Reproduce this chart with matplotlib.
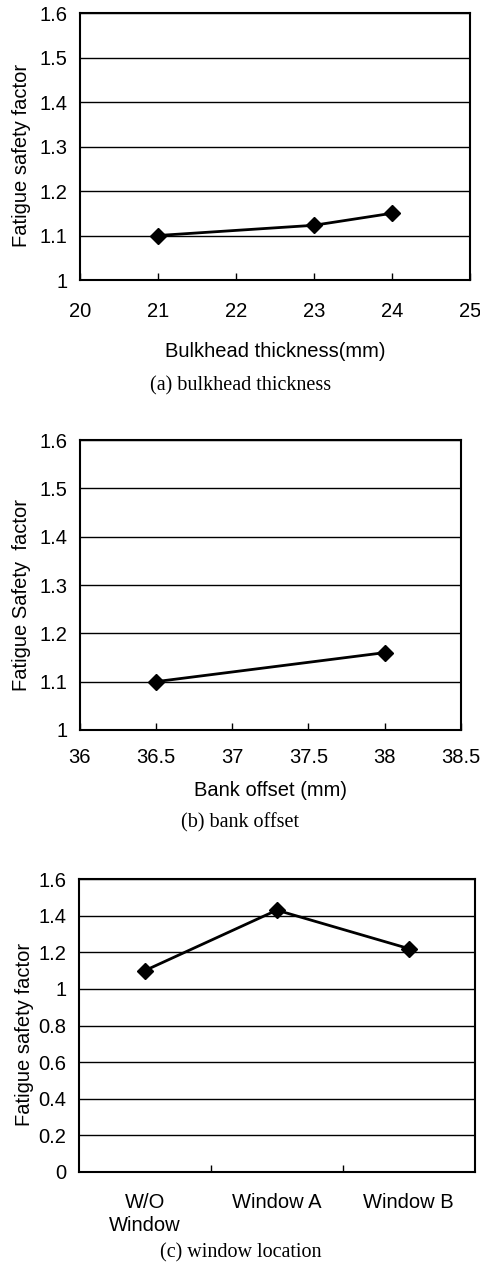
import matplotlib.pyplot as plt
from matplotlib.ticker import FuncFormatter

# (a) bulkhead thickness
thick_mm = [21, 23, 24]
thick_sf = [1.10, 1.123, 1.15]
# (b) bank offset
offset_mm = [36.5, 38]
offset_sf = [1.10, 1.16]
# (c) window location
windows = ['W/O\nWindow', 'Window A', 'Window B']
window_sf = [1.10, 1.43, 1.22]

plt.rcParams['font.family'] = ['Liberation Sans', 'DejaVu Sans']
FS = 14.5
fig = plt.figure(figsize=(4.81, 12.71), dpi=100)

def style(ax, yticks, xpad):
    ax.set_yticks(yticks)
    ax.yaxis.set_major_formatter(FuncFormatter(lambda v, p: '%g' % round(v, 2)))
    ax.grid(axis='y', color='black', linewidth=1.0)
    ax.set_axisbelow(True)
    for s in ax.spines.values():
        s.set_linewidth(1.5)
    ax.tick_params(axis='y', length=0, pad=9, labelsize=FS)
    ax.tick_params(axis='x', direction='in', length=5, width=1, pad=xpad, labelsize=FS)

def caption(y_px, text):
    fig.text(0.5, 1 - y_px / 1271, text, ha='center', va='center',
             family='Liberation Serif', fontsize=14.5)

ax1 = fig.add_axes([0.166, 0.7797, 0.811, 0.210])
ax1.plot(thick_mm, thick_sf, color='black', lw=2, marker='D', ms=8)
ax1.set_xlim(20, 25)
ax1.set_ylim(1, 1.6)
ax1.set_xticks(range(20, 26))
style(ax1, [1, 1.1, 1.2, 1.3, 1.4, 1.5, 1.6], 16)
ax1.set_xlabel('Bulkhead thickness(mm)', fontsize=FS, labelpad=15)
ax1.set_ylabel('Fatigue safety factor', fontsize=FS, labelpad=6)
ax1.yaxis.label.set_y(0.466)
caption(386, '(a) bulkhead thickness')

ax2 = fig.add_axes([0.166, 0.4257, 0.792, 0.228])
ax2.plot(offset_mm, offset_sf, color='black', lw=2, marker='D', ms=8)
ax2.set_xlim(36, 38.5)
ax2.set_ylim(1, 1.6)
ax2.set_xticks([36, 36.5, 37, 37.5, 38, 38.5])
ax2.xaxis.set_major_formatter(FuncFormatter(lambda v, p: '%g' % v))
style(ax2, [1, 1.1, 1.2, 1.3, 1.4, 1.5, 1.6], 13)
ax2.set_xlabel('Bank offset (mm)', fontsize=FS, labelpad=10)
ax2.set_ylabel('Fatigue Safety  factor', fontsize=FS, labelpad=6)
ax2.yaxis.label.set_y(0.466)
caption(823, '(b) bank offset')

ax3 = fig.add_axes([0.164, 0.0779, 0.823, 0.2305])
pos = [i + 0.5 for i in range(len(windows))]
ax3.plot(pos, window_sf, color='black', lw=2, marker='D', ms=8)
ax3.set_xlim(0, 3)
ax3.set_ylim(0, 1.6)
ax3.set_xticks([1, 2])
ax3.set_xticklabels([])
ax3.set_xticks(pos, minor=True)
ax3.set_xticklabels(windows, minor=True, linespacing=1.3)
style(ax3, [0, 0.2, 0.4, 0.6, 0.8, 1, 1.2, 1.4, 1.6], 12)
ax3.tick_params(axis='x', which='minor', length=0, pad=15, labelsize=FS)
ax3.set_ylabel('Fatigue safety factor', fontsize=FS, labelpad=3)
ax3.yaxis.label.set_y(0.47)
caption(1253, '(c) window location')

fig.savefig('out.png', dpi=100)
